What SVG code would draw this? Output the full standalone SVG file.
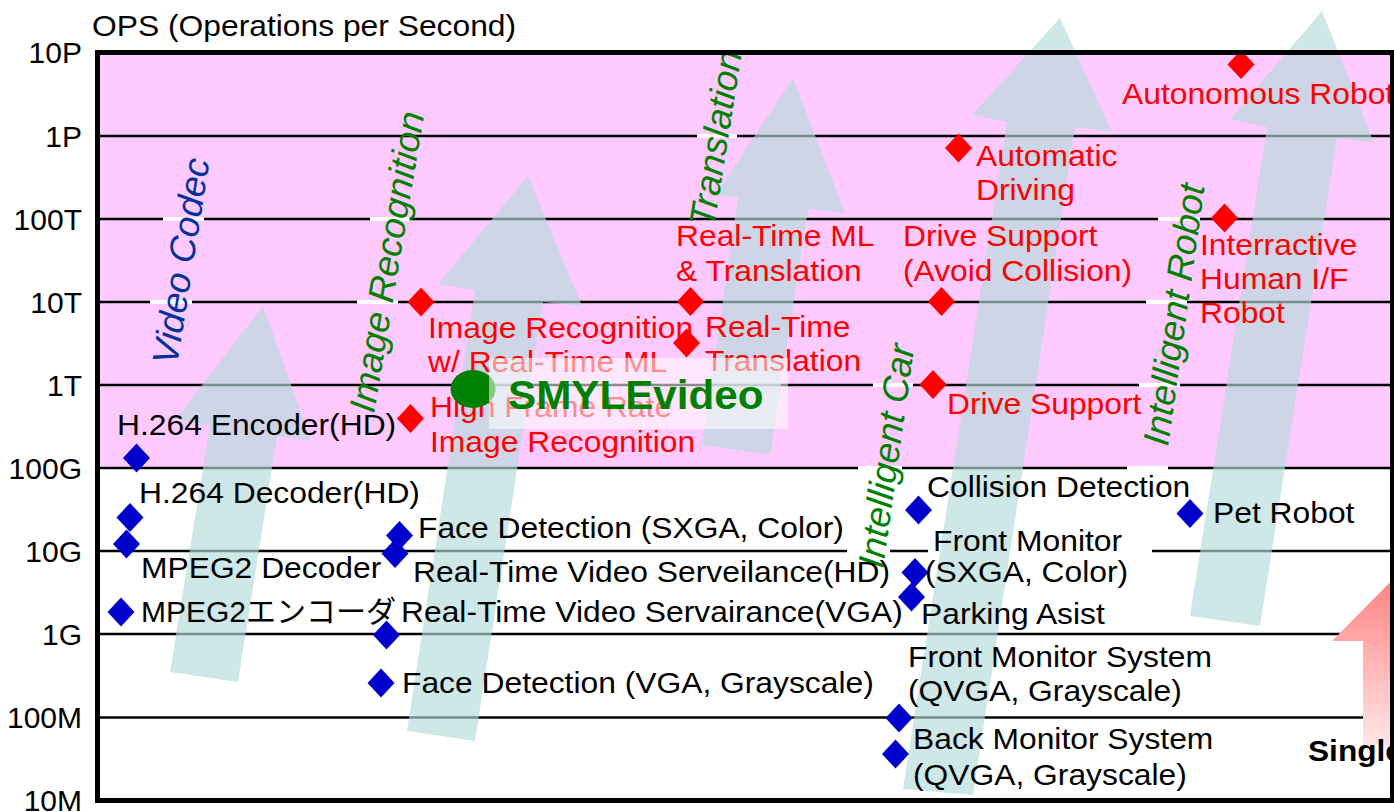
<svg xmlns="http://www.w3.org/2000/svg" width="1394" height="812" viewBox="0 0 1394 812">
<defs>
<style>
.t{font-family:"Liberation Sans",Arial,"Noto Sans CJK JP",sans-serif;font-size:30px}
.tick{font-family:"Liberation Sans",Arial,sans-serif;font-size:30px;fill:#000;text-anchor:end}
.red{fill:#FF0000}
.blk{fill:#000}
.rot{font-family:"Liberation Sans",Arial,sans-serif;font-size:36.5px;font-style:italic}
.grn{fill:#008000}
.nav{fill:#003399}
.grid{stroke:#000;stroke-width:2.5}
.gap{stroke:#fff;stroke-width:4}
.trend{fill:#B4DADA;fill-opacity:0.65}
.dr{fill:#FF0000}
.db{fill:#0000CC}
</style>
<path id="dia" d="M0,-14.5L13.5,0L0,14.5L-13.5,0Z"/>
<linearGradient id="pinkGrad" x1="0" y1="560" x2="0" y2="748" gradientUnits="userSpaceOnUse">
<stop offset="0" stop-color="#FF7878"/>
<stop offset="1" stop-color="#FFE8E8"/>
</linearGradient>
</defs>

<!-- background and high-performance band -->
<rect x="0" y="0" width="1394" height="812" fill="#fff"/>
<rect x="97" y="53" width="1296" height="415" fill="#FFCAFF"/>

<!-- decade grid -->
<g id="grid">
<line class="grid" x1="100" y1="136" x2="1390" y2="136"/>
<line class="grid" x1="100" y1="219" x2="1390" y2="219"/>
<line class="grid" x1="100" y1="302" x2="1390" y2="302"/>
<line class="grid" x1="100" y1="385" x2="1390" y2="385"/>
<line class="grid" x1="100" y1="468" x2="1390" y2="468"/>
<line class="grid" x1="100" y1="551" x2="1390" y2="551"/>
<line class="grid" x1="100" y1="634" x2="1390" y2="634"/>
<line class="grid" x1="100" y1="717.5" x2="1390" y2="717.5"/>
</g>
<g id="grid-gaps">
<line class="gap" x1="163" y1="219" x2="204" y2="219"/>
<line class="gap" x1="370" y1="219" x2="410" y2="219"/>
<line class="gap" x1="1158" y1="219" x2="1200" y2="219"/>
<line class="gap" x1="150" y1="302" x2="192" y2="302"/>
<line class="gap" x1="357" y1="302" x2="398" y2="302"/>
<line class="gap" x1="1146" y1="302" x2="1187" y2="302"/>
<line class="gap" x1="697" y1="136" x2="737" y2="136"/>
<line class="gap" x1="873" y1="385" x2="913" y2="385"/>
<line class="gap" x1="1139" y1="385" x2="1180" y2="385"/>
<line class="gap" x1="858" y1="468" x2="902" y2="468"/>
<line class="gap" x1="1127" y1="468" x2="1168" y2="468"/>
<line class="gap" x1="847" y1="551" x2="890" y2="551"/>
<line class="gap" x1="928" y1="551" x2="1152" y2="551"/>
</g>

<!-- trend arrows -->
<g id="trend-arrows">
<polygon id="arrow-video" class="trend" points="263,306 311,441 277,436 238,682 170,672 210,425 175,420"/>
<polygon id="arrow-image" class="trend" points="528,176 582,306 543,302 475,741 407,731 475,290 438,284"/>
<polygon id="arrow-translation" class="trend" points="793,78 845,213 808,209 770,455 702,445 738,197 715,196"/>
<polygon id="arrow-car" class="trend" points="1060,18 1112,132 1075,127 973,795 903,789 1007,122 972,115"/>
<polygon id="arrow-robot" class="trend" points="1322,11 1374,143 1337,138 1260,626 1190,616 1267,127 1230,119"/>
<polygon id="arrow-single" fill="url(#pinkGrad)" points="1332,641 1426,546 1520,641 1489,641 1489,745 1363,745 1363,641"/>
</g>

<!-- axis labels -->
<g id="axis">
<text class="t blk" transform="translate(92 36) scale(1.06 1)">OPS (Operations per Second)</text>
<text class="tick" x="82" y="63">10P</text>
<text class="tick" x="82" y="147">1P</text>
<text class="tick" x="82" y="230">100T</text>
<text class="tick" x="82" y="313">10T</text>
<text class="tick" x="82" y="396">1T</text>
<text class="tick" x="82" y="479">100G</text>
<text class="tick" x="82" y="562">10G</text>
<text class="tick" x="82" y="645">1G</text>
<text class="tick" x="82" y="728">100M</text>
<text class="tick" x="82" y="811">10M</text>
</g>

<!-- application domain labels -->
<g id="domains">
<text class="rot nav" transform="translate(177 366) rotate(-81)">Video Codec</text>
<text class="rot grn" transform="translate(374 414) rotate(-80.5)">Image Recognition</text>
<text class="rot grn" transform="translate(714 228) rotate(-81)">Translation</text>
<text class="rot grn" transform="translate(883 569) rotate(-82)">Intelligent Car</text>
<text class="rot grn" transform="translate(1168 447) rotate(-82)">Intelligent Robot</text>
</g>

<!-- future applications -->
<g id="n-autonomous-robot">
<use href="#dia" class="dr" transform="translate(1241 64.5)"/>
<text class="t red" transform="translate(1122 104) scale(1.06 1)">Autonomous Robot</text>
</g>
<g id="n-automatic-driving">
<use href="#dia" class="dr" transform="translate(958.5 148)"/>
<text class="t red" transform="translate(976 166) scale(1.06 1)"><tspan x="0" y="0">Automatic</tspan><tspan x="0" y="34">Driving</tspan></text>
</g>
<g id="n-interactive-robot">
<use href="#dia" class="dr" transform="translate(1224.5 218)"/>
<text class="t red" transform="translate(1200 255) scale(1.06 1)"><tspan x="0" y="0">Interractive</tspan><tspan x="0" y="34">Human I/F</tspan><tspan x="0" y="68">Robot</tspan></text>
</g>
<g id="n-drive-support-avoid">
<use href="#dia" class="dr" transform="translate(941.5 301.5)"/>
<text class="t red" transform="translate(903 246) scale(1.06 1)"><tspan x="0" y="0">Drive Support</tspan><tspan x="0" y="35">(Avoid Collision)</tspan></text>
</g>
<g id="n-rt-ml-translation">
<use href="#dia" class="dr" transform="translate(690.5 301.5)"/>
<text class="t red" transform="translate(676 246) scale(1.06 1)"><tspan x="0" y="0">Real-Time ML</tspan><tspan x="0" y="35">&amp; Translation</tspan></text>
</g>
<g id="n-image-rec-ml">
<use href="#dia" class="dr" transform="translate(421 302)"/>
<text class="t red" transform="translate(428 338) scale(1.06 1)"><tspan x="0" y="0">Image Recognition</tspan><tspan x="0" y="34">w/ Real-Time ML</tspan></text>
</g>
<g id="n-rt-translation">
<use href="#dia" class="dr" transform="translate(686.5 343)"/>
<text class="t red" transform="translate(705 337) scale(1.06 1)"><tspan x="0" y="0">Real-Time</tspan><tspan x="0" y="34">Translation</tspan></text>
</g>
<g id="n-drive-support">
<use href="#dia" class="dr" transform="translate(933 384.5)"/>
<text class="t red" transform="translate(947 414) scale(1.06 1)">Drive Support</text>
</g>
<g id="n-hfr-image-rec">
<use href="#dia" class="dr" transform="translate(410.5 418.5)"/>
<text class="t red" transform="translate(430 417) scale(1.06 1)"><tspan x="0" y="0">High Frame Rate</tspan><tspan x="0" y="35">Image Recognition</tspan></text>
</g>

<!-- existing applications -->
<g id="n-h264-enc">
<use href="#dia" class="db" transform="translate(136.5 458)"/>
<text class="t blk" transform="translate(117 435) scale(1.06 1)">H.264 Encoder(HD)</text>
</g>
<g id="n-h264-dec">
<use href="#dia" class="db" transform="translate(130 517.5)"/>
<text class="t blk" transform="translate(139 503) scale(1.06 1)">H.264 Decoder(HD)</text>
</g>
<g id="n-mpeg2-dec">
<use href="#dia" class="db" transform="translate(126.5 544)"/>
<text class="t blk" transform="translate(141 578) scale(1.06 1)">MPEG2 Decoder</text>
</g>
<g id="n-mpeg2-enc">
<use href="#dia" class="db" transform="translate(121 612)"/>
<text class="t blk" x="141" y="622">MPEG2エンコーダ</text>
</g>
<g id="n-face-sxga">
<use href="#dia" class="db" transform="translate(399.5 535.5)"/>
<text class="t blk" transform="translate(418 538) scale(1.06 1)">Face Detection (SXGA, Color)</text>
</g>
<g id="n-rtv-hd">
<use href="#dia" class="db" transform="translate(395 553.5)"/>
<text class="t blk" transform="translate(413 582) scale(1.06 1)">Real-Time Video Serveilance(HD)</text>
</g>
<g id="n-rtv-vga">
<use href="#dia" class="db" transform="translate(386.5 635)"/>
<text class="t blk" transform="translate(401 622) scale(1.06 1)">Real-Time Video Servairance(VGA)</text>
</g>
<g id="n-face-vga">
<use href="#dia" class="db" transform="translate(381 683)"/>
<text class="t blk" transform="translate(402 693) scale(1.06 1)">Face Detection (VGA, Grayscale)</text>
</g>
<g id="n-collision">
<use href="#dia" class="db" transform="translate(918.5 510)"/>
<text class="t blk" transform="translate(927 497) scale(1.06 1)">Collision Detection</text>
</g>
<g id="n-front-monitor">
<use href="#dia" class="db" transform="translate(915 572.5)"/>
<text class="t blk" transform="translate(933 551) scale(1.06 1)">Front Monitor</text>
<text class="t blk" transform="translate(925 582) scale(1.06 1)">(SXGA, Color)</text>
</g>
<g id="n-parking">
<use href="#dia" class="db" transform="translate(911.5 597)"/>
<text class="t blk" transform="translate(921 624) scale(1.06 1)">Parking Asist</text>
</g>
<g id="n-front-monitor-system">
<use href="#dia" class="db" transform="translate(899 718)"/>
<text class="t blk" transform="translate(908 667) scale(1.06 1)"><tspan x="0" y="0">Front Monitor System</tspan><tspan x="0" y="34">(QVGA, Grayscale)</tspan></text>
</g>
<g id="n-back-monitor-system">
<use href="#dia" class="db" transform="translate(895.5 754)"/>
<text class="t blk" transform="translate(913 749) scale(1.06 1)"><tspan x="0" y="0">Back Monitor System</tspan><tspan x="0" y="36">(QVGA, Grayscale)</tspan></text>
</g>
<g id="n-pet-robot">
<use href="#dia" class="db" transform="translate(1190 513.5)"/>
<text class="t blk" transform="translate(1213 523) scale(1.06 1)">Pet Robot</text>
</g>

<!-- SMYLEvideo marker -->
<g id="n-smylevideo">
<ellipse cx="473" cy="389" rx="22.5" ry="19" fill="#008000"/>
<rect x="489" y="358" width="299" height="71" fill="#fff" fill-opacity="0.55"/>
<text transform="translate(508 409) scale(1.055 1)" style="font-family:'Liberation Sans',Arial,sans-serif;font-size:40px;font-weight:bold" fill="#008000">SMYLEvideo</text>
</g>

<g id="n-single">
<text transform="translate(1308 761) scale(1.055 1)" style="font-family:'Liberation Sans',Arial,sans-serif;font-size:30px;font-weight:bold" fill="#000">Single</text>
</g>

<!-- plot frame -->
<rect x="97.5" y="52.5" width="1295" height="748" fill="none" stroke="#000" stroke-width="5"/>
</svg>
